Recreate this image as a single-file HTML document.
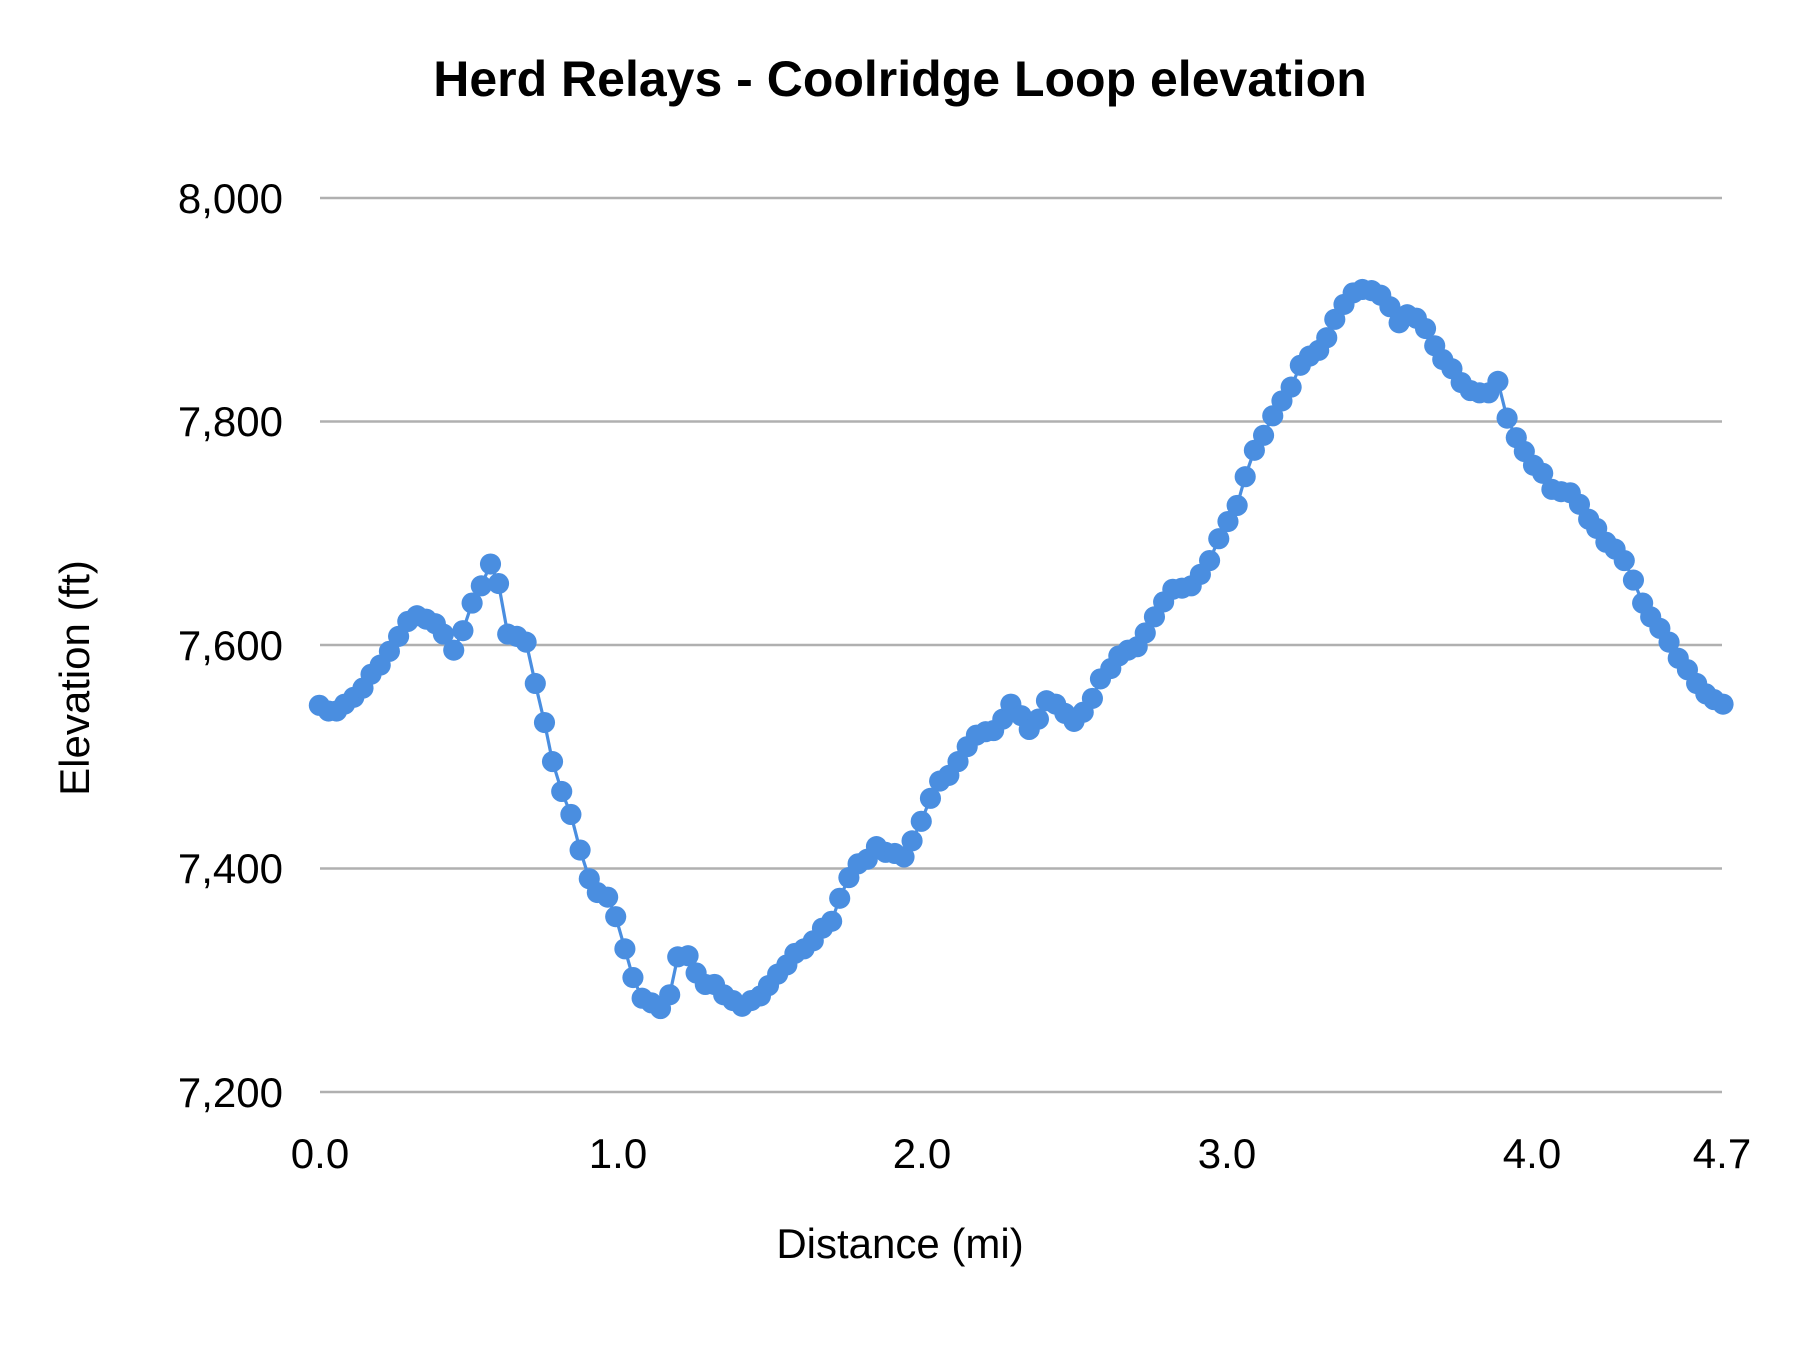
<!DOCTYPE html>
<html><head><meta charset="utf-8"><style>
html,body{margin:0;padding:0;background:#fff;}
svg{display:block;}
text{font-family:"Liberation Sans",sans-serif;fill:#000;}
</style></head><body>
<svg width="1800" height="1350" viewBox="0 0 1800 1350" xmlns="http://www.w3.org/2000/svg">
<defs>
<marker id="m" markerUnits="userSpaceOnUse" markerWidth="20" markerHeight="20" refX="10" refY="10" viewBox="0 0 20 20">
<circle cx="10" cy="10" r="9.2" fill="#4a8ee0"/>
</marker>
</defs>
<rect width="1800" height="1350" fill="#fff"/>
<text x="900" y="96" font-size="50" font-weight="bold" text-anchor="middle">Herd Relays - Coolridge Loop elevation</text>
<g stroke="#b0b0b0" stroke-width="2.5">
<line x1="320" y1="198" x2="1722" y2="198"/>
<line x1="320" y1="421.5" x2="1722" y2="421.5"/>
<line x1="320" y1="645" x2="1722" y2="645"/>
<line x1="320" y1="868.5" x2="1722" y2="868.5"/>
<line x1="320" y1="1092" x2="1722" y2="1092"/>
</g>
<g font-size="42" text-anchor="end">
<text x="283" y="213">8,000</text>
<text x="283" y="436">7,800</text>
<text x="283" y="660">7,600</text>
<text x="283" y="883">7,400</text>
<text x="283" y="1107">7,200</text>
</g>
<g font-size="42" text-anchor="middle">
<text x="320" y="1168">0.0</text>
<text x="618" y="1168">1.0</text>
<text x="922" y="1168">2.0</text>
<text x="1227" y="1168">3.0</text>
<text x="1532" y="1168">4.0</text>
<text x="1722" y="1168">4.7</text>
</g>
<text x="900" y="1258" font-size="42" text-anchor="middle">Distance (mi)</text>
<text transform="translate(89,678) rotate(-90)" font-size="42" text-anchor="middle">Elevation (ft)</text>
<polyline transform="scale(1.1487)" fill="none" stroke="#4a8ee0" stroke-width="2.8" stroke-linejoin="round" marker-start="url(#m)" marker-mid="url(#m)" marker-end="url(#m)" points="278,614 286,619 293,619 300,613 308,607 316,599 323,587 331,579 339,567 347,554 355,541 363,536 371,539 379,543 386,552 395,566 403,549 411,525 419,510 427,491 434,508 442,552 450,554 458,559 466,595 474,629 481,663 489,689 497,709 505,740 513,765 520,777 529,781 536,798 544,826 551,851 559,869 567,873 575,878 583,866 590,833 599,832 606,847 614,857 622,857 630,866 638,871 646,876 654,871 662,867 669,858 677,848 685,840 692,830 700,826 708,819 716,808 724,802 731,782 739,764 747,752 755,748 763,737 771,742 779,743 787,746 794,732 802,715 810,695 818,680 826,675 834,663 842,650 850,640 858,637 865,636 873,626 880,613 889,623 896,635 904,626 911,610 919,613 927,621 935,628 943,620 951,608 958,591 967,582 974,571 982,566 990,563 997,551 1005,537 1013,524 1021,513 1029,512 1037,510 1045,500 1053,488 1061,469 1069,454 1077,440 1084,415 1092,392 1100,379 1108,362 1116,349 1124,337 1132,318 1140,310 1148,305 1155,294 1162,278 1170,265 1178,255 1186,252 1194,253 1202,257 1210,267 1218,281 1225,274 1233,277 1241,286 1249,301 1256,313 1264,321 1272,333 1280,340 1288,342 1296,342 1304,332 1312,364 1320,381 1327,393 1335,405 1343,412 1351,426 1359,428 1367,429 1375,439 1383,452 1390,460 1398,472 1406,478 1414,488 1422,505 1430,525 1437,537 1445,547 1453,559 1461,573 1469,583 1477,595 1485,604 1492,609 1500,613"/>
</svg>
</body></html>
